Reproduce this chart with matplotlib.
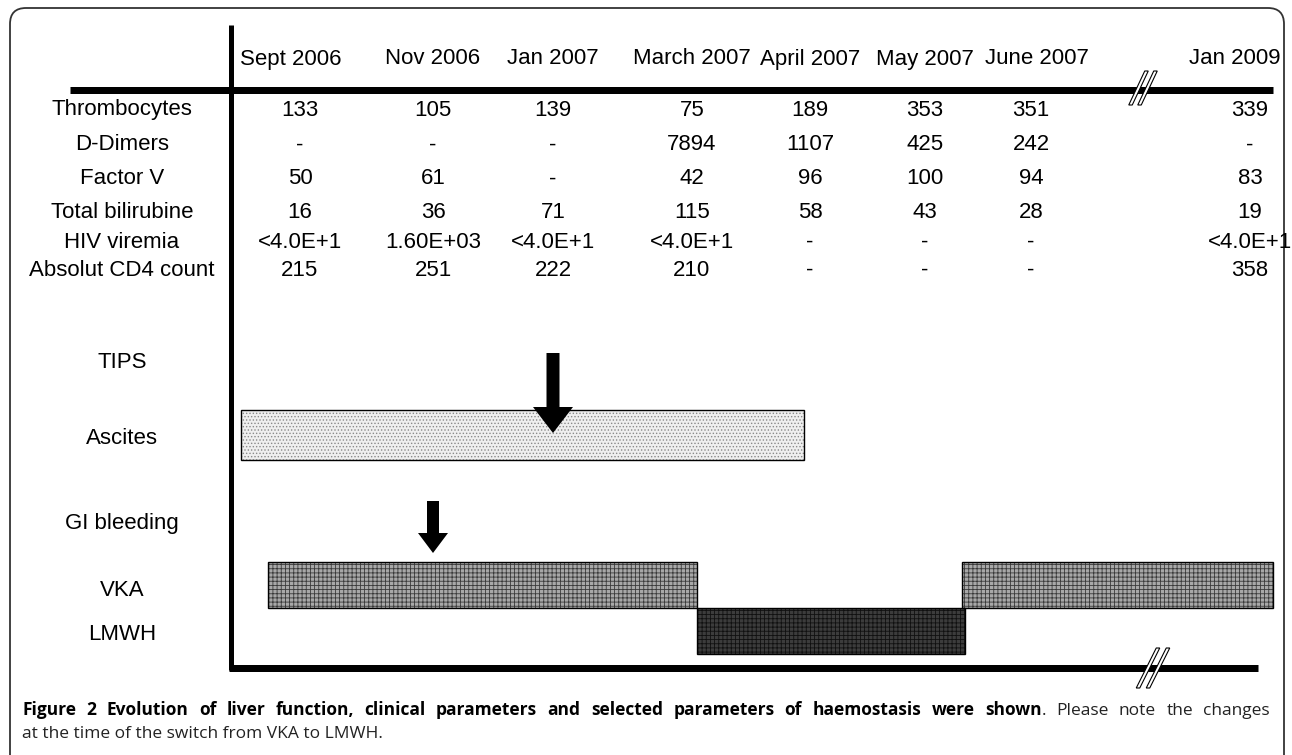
import matplotlib
matplotlib.use('Agg')
import matplotlib.pyplot as plt
from matplotlib.patches import FancyBboxPatch, Rectangle, Polygon, FancyArrow
import numpy as np

# ---------------- data ----------------
timepoints = ['Sept 2006', 'Nov 2006', 'Jan 2007', 'March 2007', 'April 2007',
              'May 2007', 'June 2007', 'Jan 2009']
parameters = ['Thrombocytes', 'D-Dimers', 'Factor V', 'Total bilirubine',
              'HIV viremia', 'Absolut CD4 count']
thrombocytes = ['133', '105', '139', '75', '189', '353', '351', '339']
d_dimers = ['-', '-', '-', '7894', '1107', '425', '242', '-']
factor_v = ['50', '61', '-', '42', '96', '100', '94', '83']
bilirubine = ['16', '36', '71', '115', '58', '43', '28', '19']
hiv_viremia = ['<4.0E+1', '1.60E+03', '<4.0E+1', '<4.0E+1', '-', '-', '-', '<4.0E+1']
cd4_count = ['215', '251', '222', '210', '-', '-', '-', '358']
table_rows = [thrombocytes, d_dimers, factor_v, bilirubine, hiv_viremia, cd4_count]

# clinical events, in timepoint-index units (0 = Sept 2006 ... 7 = Jan 2009)
event_labels = ['TIPS', 'Ascites', 'GI bleeding', 'VKA', 'LMWH']
tips_at = 2.0
gi_bleeding_at = 1.0
ascites_spans = [(-0.35, 3.95)]
vka_spans = [(-0.16, 3.04), (5.33, 7.19)]
lmwh_spans = [(3.04, 5.36)]

caption_bold = ('Figure 2 Evolution of liver function, clinical parameters and '
                'selected parameters of haemostasis were shown')
caption_rest = '. Please note the changes'
caption_line2 = 'at the time of the switch from VKA to LMWH.'

# ---------------- layout ----------------
W, H = 1292, 755
header_x = [291, 433, 553, 692, 810, 925, 1037, 1235]
value_x = [300, 433, 553, 692, 810, 925, 1031, 1250]
row_y = [108, 143, 177, 211, 240, 268]
label_x = 122
header_y = 57
event_label_y = [360, 437, 521, 589, 633]
BASE = 7.5  # baseline offset from visual centre of cap height

PX = 0.72  # points per pixel at dpi=100
TABLE_FONT = ['Liberation Sans', 'DejaVu Sans']
CAP_FONT = ['Open Sans', 'DejaVu Sans']


def tx(t):
    """map timepoint index to x pixel (piecewise linear, extrapolated)"""
    idx = np.arange(len(header_x))
    xs = np.array(header_x, dtype=float)
    if t < 0:
        return xs[0] + t * (xs[1] - xs[0])
    if t > idx[-1]:
        return xs[-1] + (t - idx[-1]) * (xs[-1] - xs[-2])
    return float(np.interp(t, idx, xs))


fig = plt.figure(figsize=(W / 100, H / 100), dpi=100)
ax = fig.add_axes([0, 0, 1, 1])
ax.set_xlim(0, W)
ax.set_ylim(H, 0)
ax.axis('off')

# outer rounded frame
frame = FancyBboxPatch((10, 8), 1274, 800, boxstyle='round,pad=0,rounding_size=16',
                       facecolor='white', edgecolor='#333333', lw=1.3, zorder=0)
ax.add_patch(frame)

# axes lines
ax.plot([231, 231], [25, 670], color='black', lw=5 * PX, solid_capstyle='butt', zorder=3)
ax.plot([70, 1273], [90, 90], color='black', lw=7 * PX, solid_capstyle='butt', zorder=3)
ax.plot([229, 1258], [668, 668], color='black', lw=7 * PX, solid_capstyle='butt', zorder=3)


def label(x, y, s):
    ax.text(x, y + BASE, s, ha='center', va='baseline', fontsize=16,
            family=TABLE_FONT, color='black')


# header
for name, x in zip(timepoints, header_x):
    label(x, header_y, name)

# table
for name, y, vals in zip(parameters, row_y, table_rows):
    label(label_x, y, name)
    for v, x in zip(vals, value_x):
        label(x, y, v)

# event labels
for name, y in zip(event_labels, event_label_y):
    label(label_x, y, name)

plt.rcParams['hatch.linewidth'] = 0.6


def bars(spans, ytop, ybot, face, hatch, hcolor):
    for a, b in spans:
        x0, x1 = tx(a), tx(b)
        ax.add_patch(Rectangle((x0, ytop), x1 - x0, ybot - ytop, facecolor=face,
                               edgecolor=hcolor, hatch=hatch, lw=0, zorder=2))
        ax.add_patch(Rectangle((x0, ytop), x1 - x0, ybot - ytop, facecolor='none',
                               edgecolor='black', lw=1.0, zorder=2.5))


bars(ascites_spans, 410, 460, '#efefef', '.....', '#8a8a8a')
bars(vka_spans, 562, 608, '#a8a8a8', '++++', '#3a3a3a')
bars(lmwh_spans, 608, 654, '#3c3c3c', '++++', '#101010')

# arrows
ax.add_patch(FancyArrow(tx(tips_at), 353, 0, 80, width=13, head_width=40, head_length=26,
                        length_includes_head=True, color='black', lw=0, zorder=4))
ax.add_patch(FancyArrow(tx(gi_bleeding_at), 501, 0, 52, width=12, head_width=30,
                        head_length=20, length_includes_head=True, color='black',
                        lw=0, zorder=4))


# axis break marks
def break_mark(cx, cy, h, slant, gap, thick):
    for off in (-gap / 2, gap / 2):
        x = cx + off
        pts = [(x - slant - thick / 2, cy + h / 2), (x - slant + thick / 2, cy + h / 2),
               (x + slant + thick / 2, cy - h / 2), (x + slant - thick / 2, cy - h / 2)]
        ax.add_patch(Polygon(pts, closed=True, facecolor='white', edgecolor='black',
                             lw=0.8, zorder=5))


break_mark(1143, 88, 34, 8, 9, 3.5)
break_mark(1153, 668, 40, 10, 10, 3.5)

# caption: first line fully justified between x=22 and x=1270
fig.canvas.draw()
r = fig.canvas.get_renderer()
CAP_FS = 12.5
tokens = [(w, 'bold', '#000000', True) for w in caption_bold.split(' ')]
rest_words = caption_rest[1:].split()
tokens.append(('.', 'normal', '#222222', False))
for w in rest_words:
    tokens.append((w, 'normal', '#222222', True))
tokens[0] = (tokens[0][0], tokens[0][1], tokens[0][2], False)

artists = []
total = 0.0
for s, wgt, col, sp in tokens:
    t = ax.text(0, 715, s, ha='left', va='baseline', fontsize=CAP_FS,
                family=CAP_FONT, weight=wgt, color=col)
    w = t.get_window_extent(renderer=r).width
    artists.append((t, w, sp))
    total += w
n_gaps = sum(1 for _, _, sp in artists if sp)
gap = (1270 - 22 - total) / n_gaps
x = 22.0
for t, w, sp in artists:
    if sp:
        x += gap
    t.set_x(x)
    x += w

ax.text(22, 738, caption_line2, ha='left', va='baseline', fontsize=CAP_FS,
        family=CAP_FONT, color='#222222')

fig.savefig('out.png', dpi=100)
